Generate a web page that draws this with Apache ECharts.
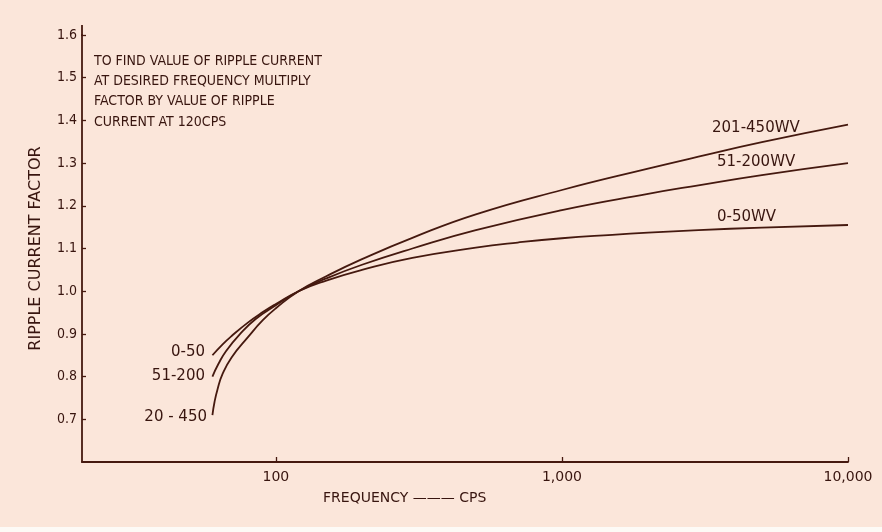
<!DOCTYPE html>
<html>
<head>
<meta charset="utf-8">
<script src="https://cdn.jsdelivr.net/npm/echarts@6/dist/echarts.min.js"></script>
<style>
html,body{margin:0;padding:0;background:#fbe6da;}
#c{width:882px;height:532px;}
</style>
</head>
<body>
<div id="c"></div>
<script>
// Frequencies (cps) and ripple current factors for each voltage range
var freq_0_50   = [60, 65, 70, 80, 90, 100, 120, 150, 200, 300, 500, 700, 1000, 1500, 2000, 3000, 5000, 10000];
var val_0_50    = [0.85, 0.875, 0.895, 0.927, 0.951, 0.970, 1.0, 1.025, 1.050, 1.078, 1.102, 1.114, 1.124, 1.132, 1.137, 1.143, 1.149, 1.155];

var freq_51_200 = [60, 63, 67, 75, 85, 100, 120, 150, 200, 300, 500, 1000, 2000, 3000, 5000, 10000];
var val_51_200  = [0.80, 0.83, 0.86, 0.90, 0.935, 0.967, 1.0, 1.030, 1.062, 1.100, 1.143, 1.190, 1.228, 1.248, 1.272, 1.30];

var freq_201_450 = [60, 61, 62.5, 65, 70, 80, 90, 100, 120, 150, 200, 300, 500, 1000, 2000, 3000, 5000, 10000];
var val_201_450  = [0.71, 0.74, 0.77, 0.805, 0.845, 0.893, 0.932, 0.96, 1.0, 1.035, 1.075, 1.125, 1.180, 1.237, 1.287, 1.315, 1.349, 1.39];

var xTicks = [100, 1000, 10000];
var xTickLabels = ['100', '1,000', '10,000'];
var yTickLabels = ['0.7', '0.8', '0.9', '1.0', '1.1', '1.2', '1.3', '1.4', '1.5', '1.6'];

var note = ['TO FIND VALUE OF RIPPLE CURRENT', 'AT DESIRED FREQUENCY MULTIPLY', 'FACTOR BY VALUE OF RIPPLE', 'CURRENT AT 120CPS'];
var seriesNames = ['0-50WV', '51-200WV', '201-450WV'];
var startLabels = ['0-50', '51-200', '20 - 450'];

function pairs(xs, ys) { return xs.map(function (x, i) { return [x, ys[i]]; }); }

var ink = '#38150f';
var lineCol = '#45190f';
var cond = '"DejaVu Sans Condensed", "DejaVu Sans", sans-serif';
var wide = '"DejaVu Sans", sans-serif';

var chart = echarts.init(document.getElementById('c'), null, {renderer: 'canvas'});

function lineSeries(name, xs, ys) {
  return {
    name: name, type: 'line', smooth: 0.5, symbol: 'none',
    lineStyle: {color: lineCol, width: 1.8},
    data: pairs(xs, ys)
  };
}

var graphics = [
  {type: 'rect', shape: {x: 0, y: 527, width: 882, height: 5}, style: {fill: '#fdfaf6'}, silent: true},
  {type: 'line', shape: {x1: 82, y1: 25, x2: 82, y2: 36}, style: {stroke: lineCol, lineWidth: 1.8}, silent: true},
  {type: 'text', left: 323, top: 491, style: {text: 'FREQUENCY ——— CPS', fill: ink, font: '14px ' + wide}}
];
note.forEach(function (t, i) {
  graphics.push({type: 'text', left: 94, top: 54 + i * 20.3, style: {text: t, fill: ink, font: '14px ' + cond}});
});
// curve labels
graphics.push({type: 'text', left: 712, top: 121, style: {text: seriesNames[2], fill: ink, font: '15px ' + wide}});
graphics.push({type: 'text', left: 717, top: 155, style: {text: seriesNames[1], fill: ink, font: '15px ' + wide}});
graphics.push({type: 'text', left: 717, top: 210, style: {text: seriesNames[0], fill: ink, font: '15px ' + wide}});
graphics.push({type: 'text', right: 882 - 205, top: 345, style: {text: startLabels[0], fill: ink, font: '15px ' + wide}});
graphics.push({type: 'text', right: 882 - 205, top: 369, style: {text: startLabels[1], fill: ink, font: '15px ' + wide}});
graphics.push({type: 'text', right: 882 - 207, top: 410, style: {text: startLabels[2], fill: ink, font: '15px ' + wide}});

chart.setOption({
  backgroundColor: '#fbe6da',
  animation: false,
  grid: {left: 82, right: 34, top: 35, bottom: 70, containLabel: false},
  xAxis: {
    type: 'log', logBase: 10, min: 21, max: 10000,
    axisLine: {lineStyle: {color: lineCol, width: 1.8}},
    axisTick: {inside: true, length: 5, lineStyle: {color: lineCol, width: 1.3}},
    splitLine: {show: false},
    minorTick: {show: false},
    axisLabel: {
      showMinLabel: false, color: ink, fontSize: 14, fontFamily: wide, margin: 8,
      formatter: function (v) {
        var i = xTicks.indexOf(Math.round(v));
        return i >= 0 ? xTickLabels[i] : '';
      }
    }
  },
  yAxis: {
    type: 'value', min: 0.6, max: 1.6, interval: 0.1,
    name: 'RIPPLE CURRENT FACTOR', nameLocation: 'middle', nameGap: 38, nameRotate: 90,
    nameTextStyle: {color: ink, fontSize: 16, fontFamily: wide},
    axisLine: {show: true, lineStyle: {color: lineCol, width: 1.8}},
    axisTick: {show: true, inside: true, length: 4, lineStyle: {color: lineCol, width: 1.3}},
    splitLine: {show: false},
    axisLabel: {
      showMinLabel: false, color: ink, fontSize: 14, fontFamily: cond, margin: 5,
      formatter: function (v) {
        var s = v.toFixed(1);
        return yTickLabels.indexOf(s) >= 0 ? s : '';
      }
    }
  },
  series: [
    lineSeries(seriesNames[0], freq_0_50, val_0_50),
    lineSeries(seriesNames[1], freq_51_200, val_51_200),
    lineSeries(seriesNames[2], freq_201_450, val_201_450)
  ],
  graphic: graphics
});
</script>
</body>
</html>
